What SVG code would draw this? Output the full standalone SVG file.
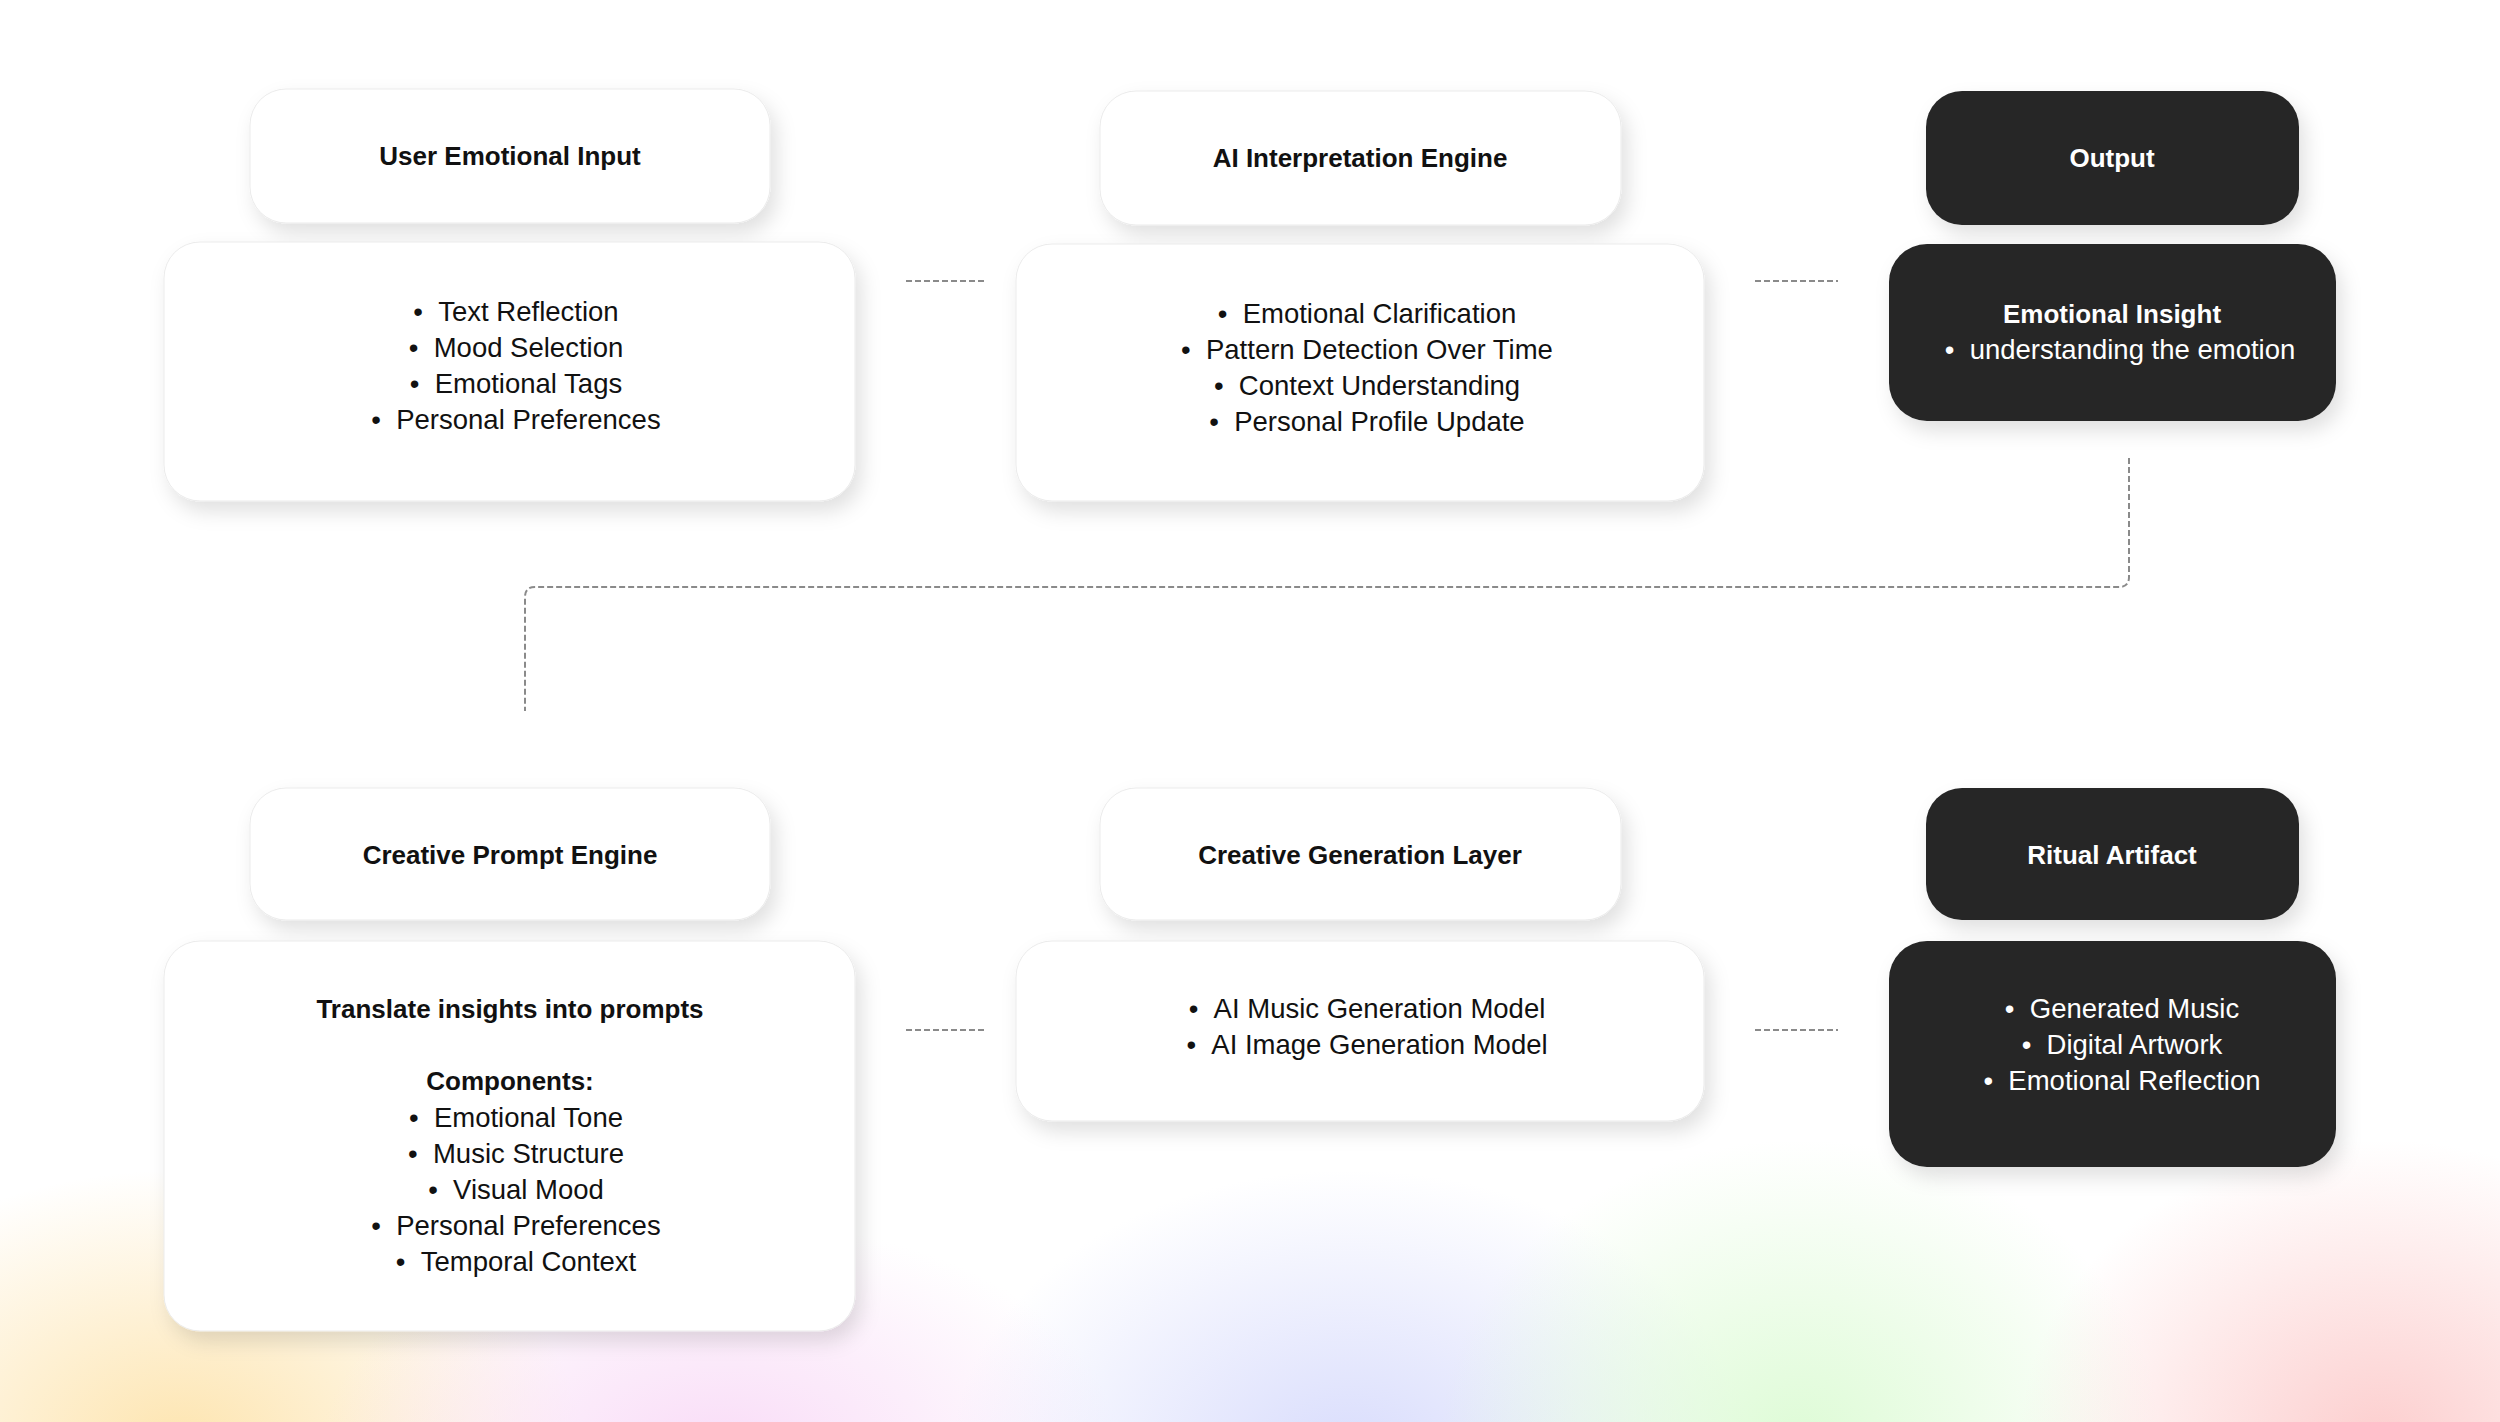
<svg xmlns="http://www.w3.org/2000/svg" width="2500" height="1422" viewBox="0 0 2500 1422">
<defs>
<style>
.box{fill:#ffffff;stroke:#ebebeb;stroke-width:1;filter:url(#sh)}
.dark{fill:#262626;filter:url(#sh)}
.t{font-family:"Liberation Sans",Arial,Helvetica,sans-serif;font-size:27.5px;fill:#111111;text-anchor:middle}
.h{font-family:"Liberation Sans",Arial,Helvetica,sans-serif;font-size:26px;font-weight:bold;fill:#111111;text-anchor:middle}
.w{fill:#ffffff}
.conn{fill:none;stroke:#8a8a8a;stroke-width:2;stroke-dasharray:6 3}
</style>
<filter id="sh" x="-20%" y="-20%" width="140%" height="150%">
<feDropShadow dx="6" dy="10" stdDeviation="10" flood-color="#000000" flood-opacity="0.12"/>
</filter>
<radialGradient id="g1" cx="0.5" cy="0.5" r="0.5"><stop offset="0" stop-color="#fde2a8" stop-opacity="0.9"/><stop offset="1" stop-color="#fde2a8" stop-opacity="0"/></radialGradient>
<radialGradient id="g2" cx="0.5" cy="0.5" r="0.5"><stop offset="0" stop-color="#f8d8f6" stop-opacity="0.9"/><stop offset="1" stop-color="#f8d8f6" stop-opacity="0"/></radialGradient>
<radialGradient id="g3" cx="0.5" cy="0.5" r="0.5"><stop offset="0" stop-color="#d6dafc" stop-opacity="0.95"/><stop offset="1" stop-color="#d6dafc" stop-opacity="0"/></radialGradient>
<radialGradient id="g4" cx="0.5" cy="0.5" r="0.5"><stop offset="0" stop-color="#dcfbd4" stop-opacity="0.95"/><stop offset="1" stop-color="#dcfbd4" stop-opacity="0"/></radialGradient>
<radialGradient id="g5" cx="0.5" cy="0.5" r="0.5"><stop offset="0" stop-color="#fcc9c9" stop-opacity="0.9"/><stop offset="1" stop-color="#fcc9c9" stop-opacity="0"/></radialGradient>
</defs>
<rect x="0" y="0" width="2500" height="1422" fill="#ffffff"/>
<g id="background-glow">
<ellipse cx="180" cy="1440" rx="400" ry="270" fill="url(#g1)"/>
<ellipse cx="720" cy="1450" rx="400" ry="230" fill="url(#g2)"/>
<ellipse cx="1350" cy="1460" rx="400" ry="290" fill="url(#g3)"/>
<ellipse cx="1800" cy="1440" rx="360" ry="300" fill="url(#g4)"/>
<ellipse cx="2380" cy="1440" rx="360" ry="300" fill="url(#g5)"/>
</g>
<g id="connectors">
<line class="conn" x1="906" y1="281" x2="985" y2="281"/>
<line class="conn" x1="1755" y1="281" x2="1838" y2="281"/>
<path class="conn" d="M2129 458 V577 Q2129 587 2119 587 H535 Q525 587 525 597 V711"/>
<line class="conn" x1="906" y1="1030" x2="985" y2="1030"/>
<line class="conn" x1="1755" y1="1030" x2="1838" y2="1030"/>
</g>
<g id="user-emotional-input">
<rect class="box" x="250" y="89" width="520" height="134" rx="36"/>
<text class="h" x="510" y="165">User Emotional Input</text>
</g>
<g id="user-emotional-input-details">
<rect class="box" x="164" y="242" width="691" height="259" rx="36"/>
<text class="t" x="516" y="321">•&#160;&#160;Text Reflection</text>
<text class="t" x="516" y="357">•&#160;&#160;Mood Selection</text>
<text class="t" x="516" y="393">•&#160;&#160;Emotional Tags</text>
<text class="t" x="516" y="429">•&#160;&#160;Personal Preferences</text>
</g>
<g id="ai-interpretation-engine">
<rect class="box" x="1100" y="91" width="521" height="134" rx="36"/>
<text class="h" x="1360" y="167">AI Interpretation Engine</text>
</g>
<g id="ai-interpretation-details">
<rect class="box" x="1016" y="244" width="688" height="257" rx="36"/>
<text class="t" x="1367" y="323">•&#160;&#160;Emotional Clarification</text>
<text class="t" x="1367" y="359">•&#160;&#160;Pattern Detection Over Time</text>
<text class="t" x="1367" y="395">•&#160;&#160;Context Understanding</text>
<text class="t" x="1367" y="431">•&#160;&#160;Personal Profile Update</text>
</g>
<g id="output">
<rect class="dark" x="1926" y="91" width="373" height="134" rx="36"/>
<text class="h w" x="2112" y="167">Output</text>
</g>
<g id="emotional-insight">
<rect class="dark" x="1889" y="244" width="447" height="177" rx="38"/>
<text class="h w" x="2112" y="323">Emotional Insight</text>
<text class="t w" x="2120" y="359">•&#160;&#160;understanding the emotion</text>
</g>
<g id="creative-prompt-engine">
<rect class="box" x="250" y="788" width="520" height="132" rx="36"/>
<text class="h" x="510" y="864">Creative Prompt Engine</text>
</g>
<g id="creative-prompt-details">
<rect class="box" x="164" y="941" width="691" height="390" rx="36"/>
<text class="h" x="510" y="1018">Translate insights into prompts</text>
<text class="h" x="510" y="1090">Components:</text>
<text class="t" x="516" y="1127">•&#160;&#160;Emotional Tone</text>
<text class="t" x="516" y="1163">•&#160;&#160;Music Structure</text>
<text class="t" x="516" y="1199">•&#160;&#160;Visual Mood</text>
<text class="t" x="516" y="1235">•&#160;&#160;Personal Preferences</text>
<text class="t" x="516" y="1271">•&#160;&#160;Temporal Context</text>
</g>
<g id="creative-generation-layer">
<rect class="box" x="1100" y="788" width="521" height="132" rx="36"/>
<text class="h" x="1360" y="864">Creative Generation Layer</text>
</g>
<g id="creative-generation-details">
<rect class="box" x="1016" y="941" width="688" height="180" rx="36"/>
<text class="t" x="1367" y="1018">•&#160;&#160;AI Music Generation Model</text>
<text class="t" x="1367" y="1054">•&#160;&#160;AI Image Generation Model</text>
</g>
<g id="ritual-artifact">
<rect class="dark" x="1926" y="788" width="373" height="132" rx="36"/>
<text class="h w" x="2112" y="864">Ritual Artifact</text>
</g>
<g id="ritual-artifact-details">
<rect class="dark" x="1889" y="941" width="447" height="226" rx="38"/>
<text class="t w" x="2122" y="1018">•&#160;&#160;Generated Music</text>
<text class="t w" x="2122" y="1054">•&#160;&#160;Digital Artwork</text>
<text class="t w" x="2122" y="1090">•&#160;&#160;Emotional Reflection</text>
</g>
</svg>
